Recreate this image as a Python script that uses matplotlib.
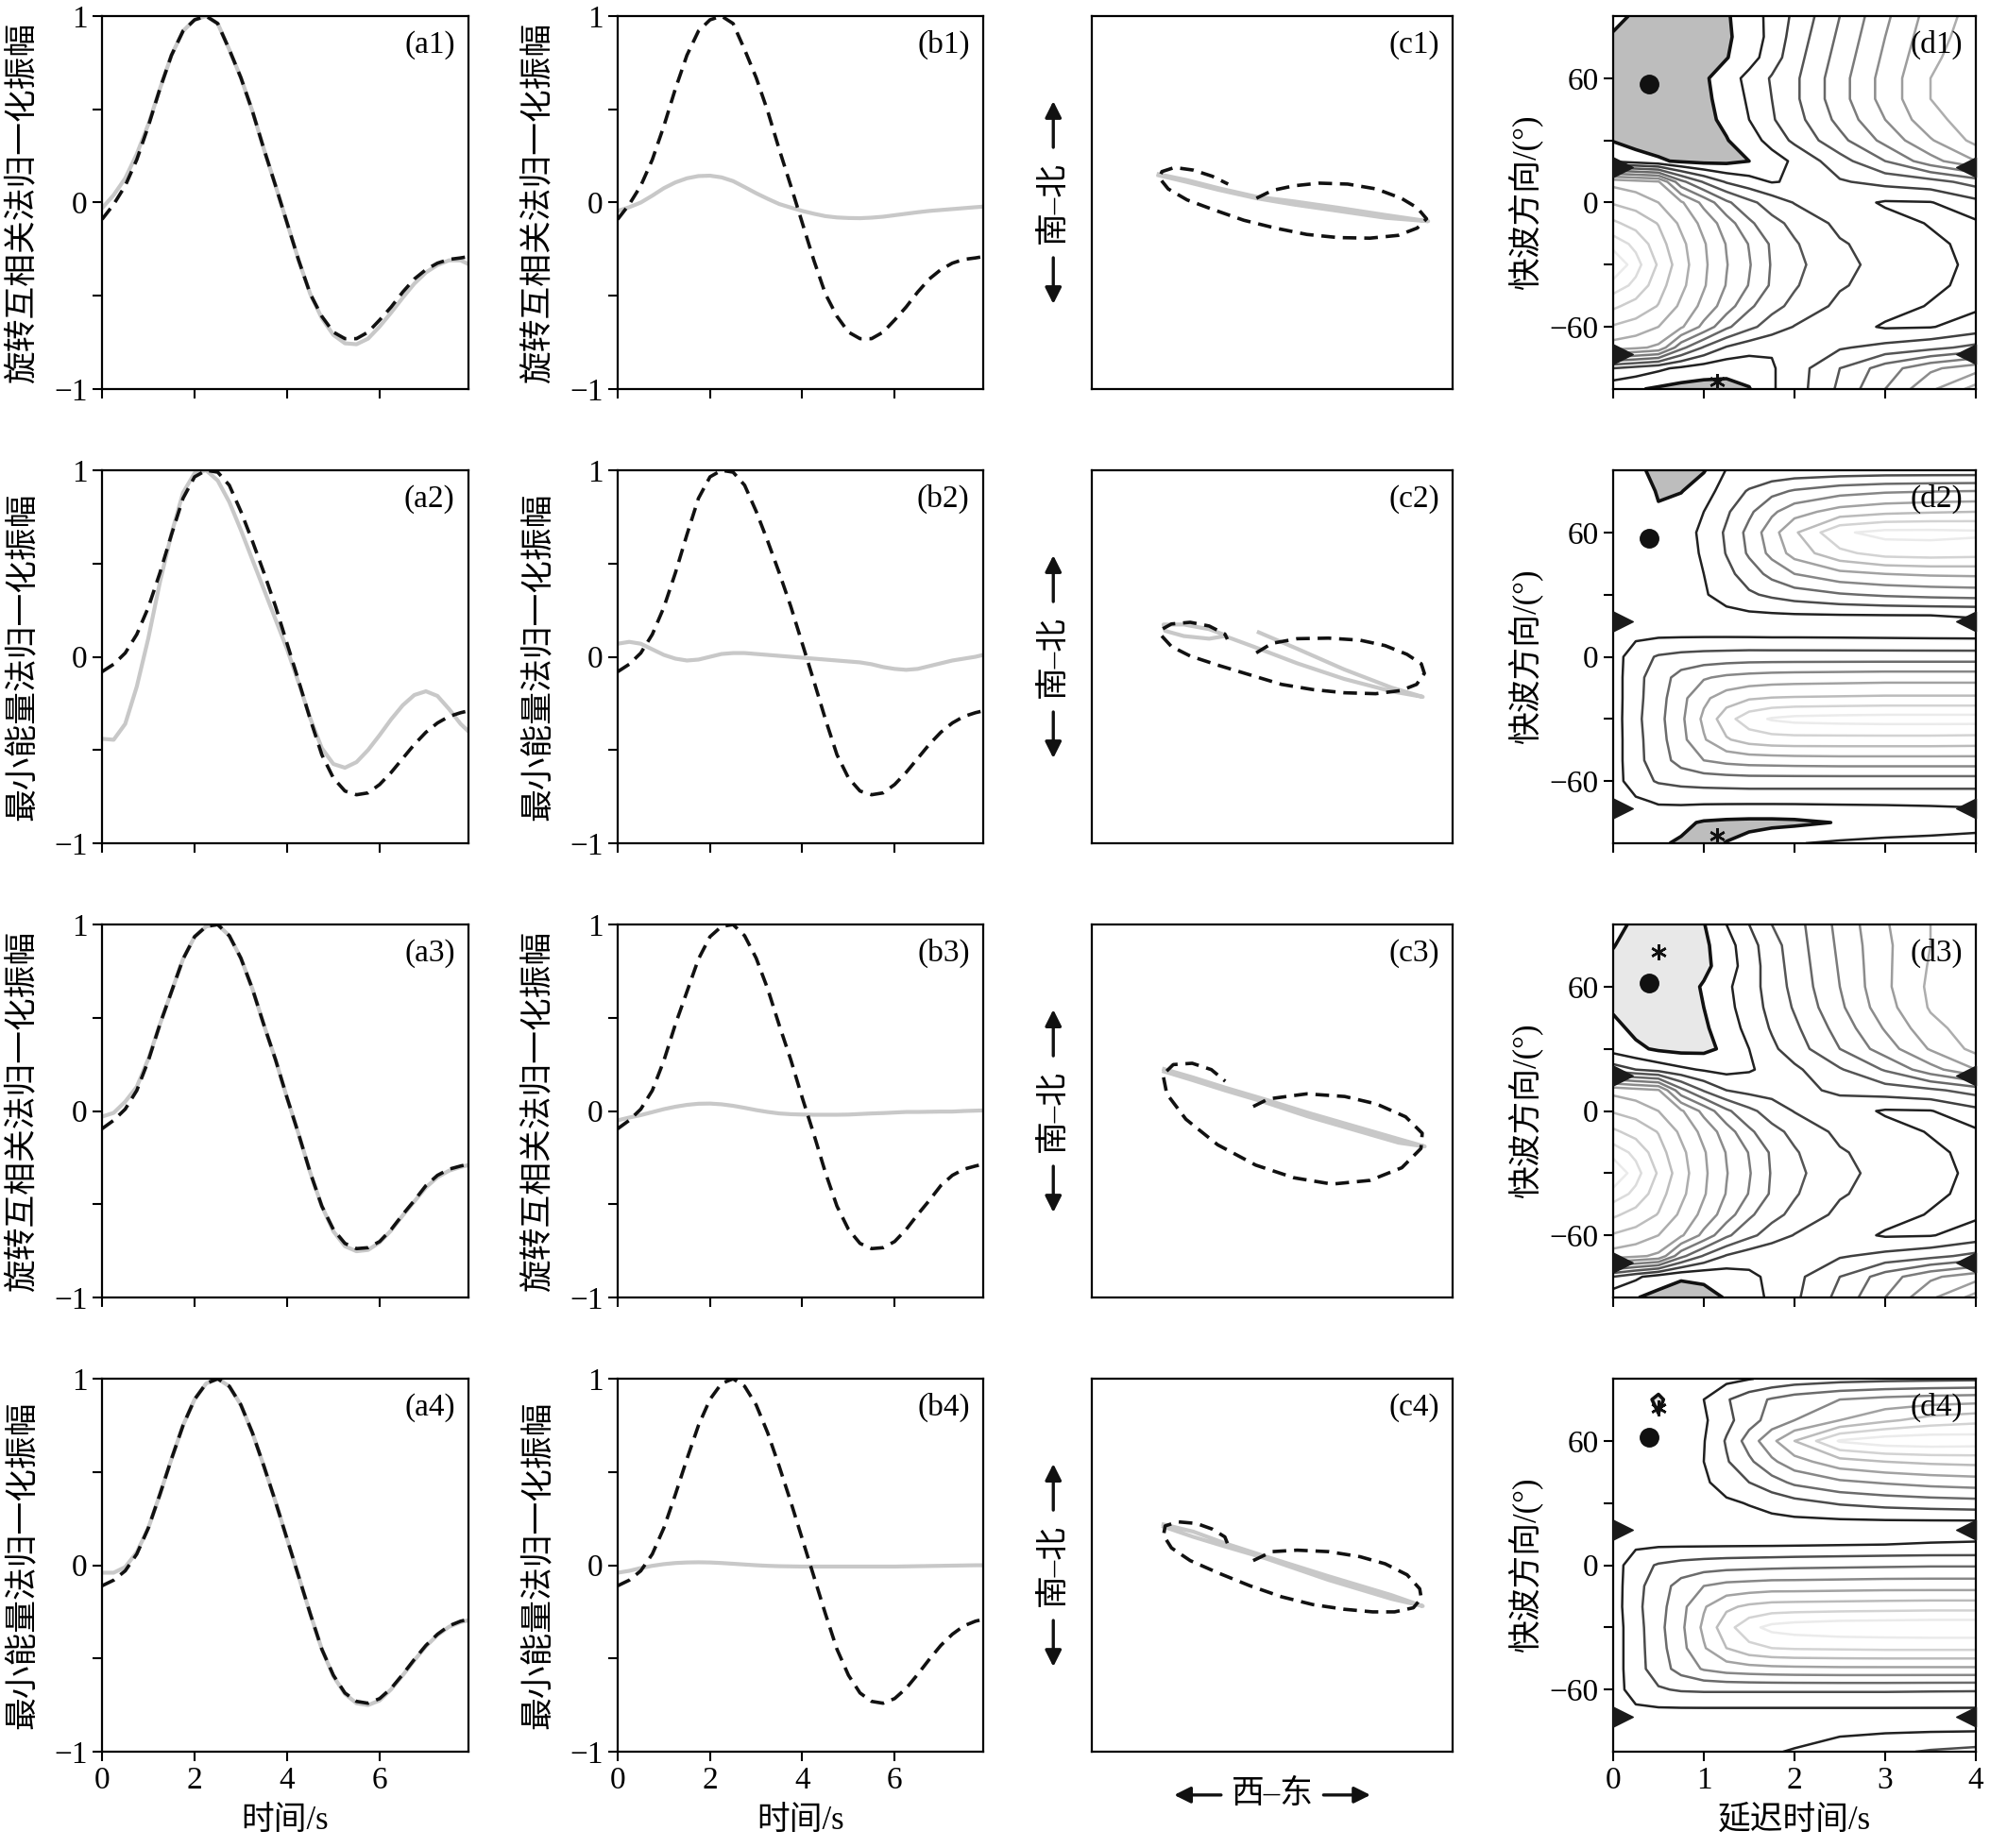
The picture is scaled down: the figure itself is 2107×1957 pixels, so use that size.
import numpy as np
import matplotlib
matplotlib.use('Agg')
from matplotlib import pyplot as plt
from matplotlib.path import Path

plt.rcParams['font.family'] = ['Liberation Serif', 'DejaVu Sans', 'Noto Sans CJK SC']

# ---------------- data ----------------
# sample times of the waveforms (s)
T = np.append(np.arange(0, 7.8, 0.25), 7.92)

# black dashed trace, shared by (a) and (b) of each row
B1 = [-0.09, -0.01, 0.09, 0.23, 0.41, 0.61, 0.79, 0.92, 0.98, 1.0, 0.96, 0.82, 0.67, 0.49, 0.285, 0.09,
      -0.11, -0.31, -0.49, -0.61, -0.695, -0.73, -0.73, -0.695, -0.63, -0.56, -0.48, -0.41, -0.36, -0.325,
      -0.305, -0.297, -0.29]
B2 = [-0.08, -0.04, 0.02, 0.12, 0.265, 0.45, 0.655, 0.85, 0.965, 1.0, 0.99, 0.92, 0.78, 0.62, 0.45, 0.27,
      0.07, -0.13, -0.335, -0.525, -0.65, -0.72, -0.74, -0.73, -0.685, -0.62, -0.545, -0.47, -0.405, -0.355,
      -0.32, -0.3, -0.29]
B3 = [-0.095, -0.05, 0.01, 0.11, 0.27, 0.465, 0.64, 0.815, 0.935, 0.99, 1.0, 0.94, 0.82, 0.655, 0.46, 0.275,
      0.07, -0.125, -0.33, -0.51, -0.635, -0.71, -0.738, -0.733, -0.70, -0.635, -0.555, -0.48, -0.40, -0.345,
      -0.312, -0.295, -0.285]
B4 = [-0.11, -0.08, -0.03, 0.06, 0.2, 0.38, 0.57, 0.75, 0.89, 0.975, 1.0, 0.96, 0.86, 0.71, 0.53, 0.34,
      0.14, -0.06, -0.26, -0.45, -0.59, -0.685, -0.73, -0.74, -0.715, -0.66, -0.585, -0.505, -0.43, -0.37,
      -0.325, -0.3, -0.29]

# grey traces, column (a)
A1G = [-0.03, 0.04, 0.13, 0.26, 0.42, 0.61, 0.79, 0.92, 0.98, 1.0, 0.96, 0.82, 0.67, 0.49, 0.285, 0.09,
       -0.11, -0.31, -0.49, -0.62, -0.71, -0.755, -0.76, -0.73, -0.665, -0.59, -0.51, -0.435, -0.375, -0.335,
       -0.31, -0.31, -0.33]
A2G = [-0.44, -0.445, -0.36, -0.16, 0.1, 0.4, 0.66, 0.88, 0.985, 1.0, 0.945, 0.83, 0.68, 0.52, 0.36, 0.2,
       0.04, -0.14, -0.33, -0.49, -0.575, -0.595, -0.565, -0.5, -0.42, -0.335, -0.26, -0.205, -0.185, -0.21,
       -0.28, -0.36, -0.4]
A3G = [-0.03, -0.01, 0.05, 0.13, 0.28, 0.465, 0.64, 0.815, 0.935, 0.99, 1.0, 0.94, 0.82, 0.655, 0.46, 0.275,
       0.07, -0.125, -0.33, -0.51, -0.645, -0.725, -0.752, -0.745, -0.705, -0.64, -0.56, -0.485, -0.41, -0.355,
       -0.32, -0.3, -0.29]
A4G = [-0.04, -0.04, -0.01, 0.07, 0.2, 0.38, 0.57, 0.75, 0.89, 0.975, 1.0, 0.96, 0.86, 0.71, 0.53, 0.34,
       0.14, -0.06, -0.26, -0.45, -0.595, -0.69, -0.74, -0.75, -0.725, -0.665, -0.59, -0.51, -0.435, -0.375,
       -0.33, -0.305, -0.295]

# grey traces, column (b)
B1G = [-0.045, -0.025, 0.0, 0.037, 0.077, 0.108, 0.13, 0.142, 0.144, 0.135, 0.115, 0.083, 0.05, 0.02, -0.008,
       -0.027, -0.045, -0.06, -0.073, -0.08, -0.083, -0.084, -0.081, -0.076, -0.068, -0.06, -0.052, -0.045,
       -0.04, -0.035, -0.03, -0.025, -0.022]
B2G = [0.07, 0.08, 0.07, 0.04, 0.01, -0.01, -0.02, -0.015, 0.0, 0.015, 0.02, 0.02, 0.015, 0.01, 0.005, 0.0,
       -0.005, -0.01, -0.015, -0.02, -0.025, -0.03, -0.04, -0.055, -0.065, -0.07, -0.065, -0.05, -0.035, -0.02,
       -0.01, 0.0, 0.01]
B3G = [-0.05, -0.035, -0.022, -0.006, 0.01, 0.023, 0.033, 0.039, 0.04, 0.036, 0.028, 0.017, 0.005, -0.005,
       -0.013, -0.017, -0.019, -0.02, -0.02, -0.02, -0.019, -0.016, -0.013, -0.011, -0.008, -0.005, -0.005,
       -0.004, -0.003, -0.003, 0.0, 0.002, 0.003]
B4G = [-0.04, -0.03, -0.015, -0.003, 0.006, 0.012, 0.015, 0.016, 0.015, 0.012, 0.008, 0.004, 0.0, -0.003,
       -0.005, -0.006, -0.007, -0.007, -0.007, -0.007, -0.007, -0.007, -0.007, -0.007, -0.007, -0.006, -0.005,
       -0.004, -0.003, -0.002, -0.001, 0.0, 0.0]

# particle motion (east, north), normalised
C1_DX = [-0.088, 0.0, 0.121, 0.261, 0.418, 0.576, 0.715, 0.803, 0.855, 0.803, 0.698, 0.541, 0.366, 0.191,
         0.017, -0.158, -0.333, -0.472, -0.577, -0.626, -0.612, -0.542, -0.438, -0.333, -0.245]
C1_DY = [0.023, 0.065, 0.09, 0.104, 0.099, 0.073, 0.023, -0.028, -0.087, -0.137, -0.176, -0.191, -0.188,
         -0.171, -0.137, -0.095, -0.036, 0.014, 0.073, 0.132, 0.166, 0.188, 0.174, 0.141, 0.099]
C1_GX = [-0.630, -0.472, -0.298, -0.088, 0.121, 0.366, 0.628, 0.864, 0.628, 0.366, 0.121, -0.088, -0.298,
         -0.472, -0.630]
C1_GY = [0.152, 0.120, 0.077, 0.031, 0.006, -0.028, -0.067, -0.100, -0.082, -0.045, -0.011, 0.023, 0.068,
         0.110, 0.146]

C2_DX = [-0.089, -0.002, 0.138, 0.312, 0.486, 0.625, 0.747, 0.826, 0.843, 0.8, 0.713, 0.573, 0.399, 0.225,
         0.051, -0.124, -0.298, -0.455, -0.559, -0.615, -0.611, -0.559, -0.455, -0.350, -0.263, -0.249]
C2_DY = [0.021, 0.072, 0.097, 0.100, 0.089, 0.060, 0.013, -0.038, -0.089, -0.148, -0.181, -0.198, -0.193,
         -0.176, -0.148, -0.097, -0.046, 0.004, 0.055, 0.114, 0.148, 0.176, 0.185, 0.165, 0.122, 0.094]
C2_GX = [-0.075, 0.138, 0.399, 0.660, 0.834, 0.660, 0.399, 0.138, -0.106, -0.263, -0.350, -0.490, -0.594,
         -0.603, -0.490, -0.350, -0.263]
C2_GY = [0.131, 0.043, -0.068, -0.165, -0.215, -0.185, -0.119, -0.035, 0.055, 0.111, 0.097, 0.111, 0.139,
         0.173, 0.173, 0.148, 0.117]

C3_DX = [-0.106, -0.021, 0.19, 0.401, 0.577, 0.739, 0.831, 0.824, 0.718, 0.542, 0.331, 0.12, -0.092, -0.303,
         -0.479, -0.585, -0.606, -0.549, -0.444, -0.338, -0.261]
C3_DY = [0.024, 0.065, 0.092, 0.078, 0.038, -0.031, -0.119, -0.201, -0.304, -0.372, -0.392, -0.358, -0.29,
         -0.181, -0.044, 0.092, 0.195, 0.249, 0.256, 0.222, 0.16]
C3_GX = [-0.600, -0.440, -0.260, -0.050, 0.200, 0.450, 0.700, 0.845, 0.700, 0.450, 0.200, -0.050, -0.260,
         -0.440, -0.600]
C3_GY = [0.225, 0.180, 0.125, 0.065, -0.010, -0.080, -0.150, -0.190, -0.170, -0.100, -0.030, 0.050, 0.110,
         0.165, 0.212]

C4_DX = [-0.106, -0.002, 0.138, 0.312, 0.486, 0.625, 0.747, 0.817, 0.826, 0.782, 0.678, 0.556, 0.399, 0.225,
         0.051, -0.124, -0.298, -0.455, -0.559, -0.603, -0.594, -0.524, -0.420, -0.333, -0.263, -0.249]
C4_DY = [0.025, 0.073, 0.081, 0.073, 0.046, 0.008, -0.051, -0.126, -0.177, -0.228, -0.250, -0.250, -0.236,
         -0.211, -0.169, -0.110, -0.042, 0.025, 0.093, 0.160, 0.211, 0.233, 0.224, 0.194, 0.152, 0.118]
C4_GX = [-0.603, -0.437, -0.263, -0.037, 0.312, 0.660, 0.834, 0.660, 0.312, -0.037, -0.263, -0.437, -0.603]
C4_GY = [0.219, 0.180, 0.118, 0.047, -0.059, -0.160, -0.219, -0.180, -0.079, 0.037, 0.101, 0.152, 0.207]

# splitting grids: delay time (s) x fast direction (deg), rows typed from +90 down to -90
DT = [0, 0.25, 0.5, 0.75, 1.0, 1.25, 1.5, 1.75, 2.0, 2.5, 3.0, 3.5, 4.0]
PHI_ROWS = list(range(90, -91, -10))

D1 = [[1.3, 0.85, 0.6, 0.6, 0.7, 0.9, 1.5, 2.3, 3.2, 5.0, 6.8, 8.4, 9.4],
      [0.9, 0.55, 0.45, 0.45, 0.55, 0.85, 1.45, 2.3, 3.4, 5.2, 7.0, 8.6, 9.5],
      [0.7, 0.45, 0.4, 0.4, 0.55, 0.95, 1.6, 2.5, 3.6, 5.4, 7.2, 8.8, 9.6],
      [0.6, 0.4, 0.35, 0.45, 0.85, 1.5, 2.3, 3.1, 3.8, 5.6, 7.4, 9.0, 9.7],
      [0.6, 0.4, 0.35, 0.45, 0.8, 1.35, 2.15, 3.0, 3.8, 5.6, 7.4, 9.0, 9.6],
      [0.6, 0.4, 0.4, 0.5, 0.75, 1.2, 2.0, 2.9, 3.6, 5.3, 7.0, 8.7, 9.5],
      [0.95, 0.6, 0.45, 0.5, 0.65, 0.95, 1.5, 2.4, 3.2, 4.7, 6.3, 7.9, 9.3],
      [1.85, 1.5, 1.15, 0.85, 0.7, 0.75, 1.0, 1.5, 2.2, 3.6, 5.0, 6.6, 8.0],
      [8.7, 8.4, 8.1, 5.3, 3.9, 2.9, 2.4, 1.95, 2.1, 2.9, 3.3, 3.6, 4.4],
      [9.9, 9.6, 9.0, 8.15, 6.7, 5.2, 4.25, 3.55, 2.95, 2.4, 1.9, 1.95, 2.7],
      [11.2, 10.6, 9.95, 8.8, 7.7, 6.5, 5.2, 4.3, 3.75, 2.75, 2.3, 1.95, 1.85],
      [12.55, 11.75, 10.4, 9.25, 8.1, 6.95, 5.95, 4.85, 4.1, 3.1, 2.6, 2.15, 1.8],
      [14.1, 12.36, 10.88, 9.44, 8.19, 7.05, 6.08, 4.92, 4.26, 3.26, 2.69, 2.26, 1.83],
      [12.55, 11.75, 10.4, 9.25, 8.1, 6.95, 5.95, 4.85, 4.1, 3.1, 2.6, 2.15, 1.8],
      [11.2, 10.6, 9.95, 8.8, 7.7, 6.5, 5.2, 4.3, 3.75, 2.75, 2.3, 1.95, 1.85],
      [9.9, 9.6, 9.0, 8.15, 6.7, 5.2, 4.25, 3.55, 2.95, 2.4, 1.9, 1.95, 2.4],
      [8.5, 8.2, 7.8, 5.3, 3.9, 2.9, 2.4, 2.1, 2.2, 2.9, 3.3, 3.7, 4.3],
      [3.0, 2.6, 2.2, 1.8, 1.5, 1.3, 1.4, 1.9, 2.5, 4.0, 5.5, 6.8, 7.6],
      [1.3, 1.1, 0.85, 0.65, 0.6, 0.7, 0.95, 1.9, 2.5, 4.2, 6.0, 7.8, 9.4]]

D2 = [[1.5, 1.2, 0.75, 0.7, 0.92, 2.05, 2.15, 2.2, 2.3, 2.35, 2.4, 2.4, 2.4],
      [1.5, 1.3, 0.95, 0.95, 1.6, 2.4, 3.1, 3.7, 4.1, 4.6, 4.85, 4.95, 5.0],
      [1.5, 1.35, 1.05, 1.5, 2.0, 2.85, 3.8, 4.8, 5.6, 6.4, 6.75, 6.9, 7.0],
      [1.5, 1.45, 1.4, 1.6, 2.2, 3.15, 4.3, 5.6, 6.85, 8.85, 9.3, 9.3, 9.2],
      [1.5, 1.5, 1.45, 1.65, 2.1, 3.05, 4.15, 5.3, 6.4, 7.75, 8.4, 8.5, 8.4],
      [1.5, 1.5, 1.5, 1.7, 2.0, 2.7, 3.5, 4.3, 5.0, 5.7, 6.0, 6.15, 6.2],
      [1.5, 1.5, 1.5, 1.6, 1.9, 2.4, 2.85, 3.2, 3.5, 3.9, 4.15, 4.3, 4.4],
      [1.5, 1.5, 1.5, 1.55, 1.6, 1.7, 1.8, 1.85, 1.9, 1.95, 1.98, 2.0, 2.03],
      [1.5, 1.8, 1.9, 1.92, 1.93, 1.93, 1.92, 1.9, 1.9, 1.88, 1.85, 1.82, 1.8],
      [1.5, 2.6, 3.1, 3.3, 3.4, 3.45, 3.5, 3.5, 3.5, 3.5, 3.5, 3.5, 3.5],
      [1.5, 2.7, 3.5, 4.4, 4.9, 5.2, 5.35, 5.45, 5.5, 5.55, 5.6, 5.6, 5.6],
      [1.5, 2.7, 3.6, 4.7, 5.8, 6.5, 6.9, 7.05, 7.1, 7.15, 7.2, 7.2, 7.2],
      [1.5, 2.75, 3.7, 4.8, 6.2, 7.6, 8.6, 9.1, 9.3, 9.4, 9.45, 9.45, 9.45],
      [1.5, 2.7, 3.6, 4.7, 5.9, 6.9, 7.4, 7.6, 7.65, 7.65, 7.65, 7.65, 7.6],
      [1.5, 2.7, 3.5, 4.4, 5.0, 5.3, 5.45, 5.5, 5.55, 5.6, 5.6, 5.6, 5.6],
      [1.5, 2.6, 3.1, 3.3, 3.4, 3.45, 3.5, 3.5, 3.5, 3.5, 3.5, 3.5, 3.5],
      [1.5, 1.8, 2.1, 2.15, 2.15, 2.15, 2.15, 2.15, 2.15, 2.15, 2.15, 2.15, 2.15],
      [1.5, 1.45, 1.35, 1.2, 0.9, 0.8, 0.75, 0.75, 0.8, 1.05, 1.2, 1.4, 1.6],
      [1.5, 1.35, 1.1, 0.9, 0.8, 1.02, 1.3, 1.7, 1.95, 2.15, 2.3, 2.35, 2.4]]

D3 = [[1.5, 0.7, 0.55, 0.65, 0.95, 2.0, 3.0, 4.0, 4.6, 6.3, 7.9, 9.0, 9.5],
      [1.05, 0.55, 0.45, 0.5, 0.8, 1.6, 2.6, 3.6, 4.5, 6.2, 7.8, 9.0, 9.6],
      [0.75, 0.45, 0.4, 0.45, 0.75, 1.5, 2.5, 3.5, 4.4, 6.1, 7.8, 9.1, 9.7],
      [0.6, 0.4, 0.35, 0.55, 1.1, 1.8, 2.6, 3.4, 4.3, 6.0, 7.8, 9.2, 9.7],
      [0.85, 0.45, 0.38, 0.55, 1.0, 1.7, 2.5, 3.3, 4.1, 5.8, 7.6, 9.1, 9.6],
      [1.3, 0.75, 0.5, 0.55, 0.85, 1.5, 2.3, 3.1, 3.8, 5.4, 7.1, 8.7, 9.5],
      [1.6, 1.2, 0.85, 0.7, 0.75, 1.2, 2.0, 2.8, 3.5, 5.0, 6.5, 8.1, 9.3],
      [3.5, 3.0, 2.6, 2.2, 1.9, 1.7, 1.9, 2.3, 2.8, 3.9, 5.1, 6.6, 8.0],
      [8.7, 8.4, 8.1, 5.3, 3.9, 3.0, 2.7, 2.6, 2.7, 3.2, 3.5, 3.8, 4.4],
      [9.9, 9.6, 9.0, 8.15, 6.7, 5.2, 4.25, 3.55, 2.95, 2.4, 1.9, 1.95, 2.7],
      [11.2, 10.6, 9.95, 8.8, 7.7, 6.5, 5.2, 4.3, 3.75, 2.75, 2.3, 1.95, 1.85],
      [12.55, 11.75, 10.4, 9.25, 8.1, 6.95, 5.95, 4.85, 4.1, 3.1, 2.6, 2.15, 1.8],
      [14.1, 12.36, 10.88, 9.44, 8.19, 7.05, 6.08, 4.92, 4.26, 3.26, 2.69, 2.26, 1.83],
      [12.55, 11.75, 10.4, 9.25, 8.1, 6.95, 5.95, 4.85, 4.1, 3.1, 2.6, 2.15, 1.8],
      [11.2, 10.6, 9.95, 8.8, 7.7, 6.5, 5.2, 4.3, 3.75, 2.75, 2.3, 1.95, 1.85],
      [9.9, 9.6, 9.0, 8.15, 6.7, 5.2, 4.25, 3.55, 2.95, 2.4, 1.9, 1.95, 2.4],
      [8.5, 8.2, 7.8, 5.3, 3.9, 2.9, 2.4, 2.1, 2.2, 2.9, 3.3, 3.7, 4.3],
      [3.0, 2.2, 1.5, 1.1, 1.15, 1.4, 1.8, 2.2, 2.7, 4.0, 5.5, 6.8, 7.6],
      [1.3, 1.05, 0.7, 0.6, 0.75, 1.05, 1.6, 2.2, 2.8, 4.3, 6.0, 7.8, 9.4]]

D4 = [[1.5, 1.4, 1.3, 1.4, 1.55, 1.7, 1.95, 2.2, 2.4, 2.6, 2.7, 2.75, 2.8],
      [1.5, 1.25, 0.9, 1.35, 2.0, 2.9, 3.6, 4.1, 4.5, 5.0, 5.3, 5.5, 5.6],
      [1.5, 1.3, 1.05, 1.3, 1.85, 2.7, 3.6, 4.4, 5.0, 6.0, 6.8, 7.4, 7.7],
      [1.5, 1.5, 1.5, 1.6, 1.95, 3.1, 4.45, 5.75, 7.0, 9.1, 9.6, 9.7, 9.6],
      [1.5, 1.5, 1.5, 1.6, 2.0, 2.9, 3.8, 4.8, 5.6, 6.6, 7.0, 7.2, 7.3],
      [1.5, 1.5, 1.5, 1.6, 1.85, 2.4, 3.0, 3.6, 4.2, 4.8, 5.1, 5.35, 5.5],
      [1.5, 1.5, 1.5, 1.55, 1.7, 1.85, 2.05, 2.35, 2.65, 3.1, 3.35, 3.5, 3.6],
      [1.5, 1.5, 1.5, 1.5, 1.55, 1.6, 1.62, 1.65, 1.67, 1.68, 1.7, 1.7, 1.7],
      [1.5, 1.8, 1.85, 1.85, 1.85, 1.86, 1.87, 1.88, 1.9, 1.95, 2.0, 2.03, 2.05],
      [1.5, 2.6, 3.1, 3.35, 3.5, 3.6, 3.65, 3.7, 3.75, 3.8, 3.85, 3.9, 3.9],
      [1.5, 2.7, 3.5, 4.4, 5.0, 5.3, 5.4, 5.5, 5.5, 5.55, 5.6, 5.6, 5.6],
      [1.5, 2.75, 3.6, 4.7, 5.9, 6.8, 7.2, 7.4, 7.45, 7.5, 7.55, 7.6, 7.6],
      [1.5, 2.6, 3.7, 4.8, 6.2, 7.6, 8.7, 9.3, 9.5, 9.7, 9.75, 9.8, 9.8],
      [1.5, 2.6, 3.6, 4.7, 5.9, 7.0, 7.7, 8.0, 8.1, 8.15, 8.2, 8.2, 8.2],
      [1.5, 2.6, 3.5, 4.4, 5.1, 5.45, 5.6, 5.7, 5.75, 5.8, 5.8, 5.8, 5.8],
      [1.5, 2.5, 2.9, 3.1, 3.15, 3.15, 3.15, 3.15, 3.15, 3.15, 3.15, 3.12, 3.1],
      [1.5, 1.8, 1.85, 1.85, 1.85, 1.85, 1.85, 1.85, 1.85, 1.85, 1.85, 1.85, 1.85],
      [1.5, 1.45, 1.4, 1.4, 1.45, 1.5, 1.6, 1.7, 1.75, 1.85, 1.9, 1.95, 1.98],
      [1.5, 1.45, 1.4, 1.45, 1.55, 1.7, 1.85, 1.95, 2.05, 2.4, 2.8, 3.1, 3.3]]

D_MAXLEVEL = [13, 9, 13, 9]
D_FILL = [('#bdbdbd', '#bdbdbd'), ('#bdbdbd', '#bdbdbd'), ('#e8e8e8', '#c0c0c0'), ('#dedede', '#c0c0c0')]
D_DOT = [(0.4, 57), (0.4, 57), (0.4, 62), (0.4, 62)]
D_STAR = [(1.15, -86.5), (1.15, -86.5), (0.5, 77), (0.5, 76)]
TRI_PHI = [17, -73]

ROW_BLACK = [B1, B2, B3, B4]
A_GRAY = [A1G, A2G, A3G, A4G]
B_GRAY = [B1G, B2G, B3G, B4G]
C_DASH = [(C1_DX, C1_DY), (C2_DX, C2_DY), (C3_DX, C3_DY), (C4_DX, C4_DY)]
C_GRAY = [(C1_GX, C1_GY), (C2_GX, C2_GY), (C3_GX, C3_GY), (C4_GX, C4_GY)]
D_GRID = [D1, D2, D3, D4]
YLAB = ['旋转互相关法归一化振幅', '最小能量法归一化振幅', '旋转互相关法归一化振幅', '最小能量法归一化振幅']

# ---------------- style ----------------
CJK = ['Liberation Serif', 'Noto Sans CJK SC']
GREY = '#c8c8c8'
BLACK = '#111111'
DASH = (4.0, 2.3)
FS = 24
LFS = 25

COL_L = [0.0513, 0.3104, 0.5487, 0.8106]
COL_W = [0.1841, 0.1837, 0.1813, 0.1823]
ROW_B = [0.7895, 0.5437, 0.2979, 0.0521]
ROW_H = 0.2018

tri_r = Path([(0, -1), (2, 0), (0, 1), (0, -1)], [Path.MOVETO, Path.LINETO, Path.LINETO, Path.CLOSEPOLY])
tri_l = Path([(0, -1), (-2, 0), (0, 1), (0, -1)], [Path.MOVETO, Path.LINETO, Path.LINETO, Path.CLOSEPOLY])
ARROW = dict(arrowstyle='-|>', lw=2.4, color=BLACK, mutation_scale=26, shrinkA=0, shrinkB=0)


def style(ax):
    for s in ax.spines.values():
        s.set_linewidth(1.6)
    ax.tick_params(direction='out', length=7, width=1.5, labelsize=FS, pad=4)


def panel_label(ax, txt):
    ax.text(0.963, 0.962, txt, transform=ax.transAxes, ha='right', va='top', fontsize=FS)


def wave_panel(ax, black, grey, txt, ylab, bottom):
    ax.plot(T, grey, color=GREY, lw=3.0, solid_capstyle='round')
    ax.plot(T, black, color=BLACK, lw=2.6, dashes=DASH)
    ax.set_xlim(0, 7.92)
    ax.set_ylim(-1, 1)
    ax.set_yticks([-1, -0.5, 0, 0.5, 1])
    ax.set_yticklabels(['\u22121', '', '0', '', '1'])
    ax.set_xticks([0, 2, 4, 6])
    if bottom:
        ax.set_xticklabels(['0', '2', '4', '6'])
        ax.set_xlabel('时间/s', fontsize=LFS, family=CJK)
        ax.xaxis.set_label_coords(0.5, -0.145)
    else:
        ax.set_xticklabels([])
    ax.set_ylabel(ylab, fontsize=LFS, family=CJK)
    ax.yaxis.set_label_coords(-0.175, 0.5)
    style(ax)
    panel_label(ax, txt)


def pm_panel(ax, dash, grey, txt, bottom):
    ax.plot(grey[0], grey[1], color=GREY, lw=3.0, solid_joinstyle='round')
    ax.plot(dash[0], dash[1], color=BLACK, lw=2.6, dashes=DASH)
    ax.set_xlim(-1, 1)
    ax.set_ylim(-1, 1)
    ax.set_xticks([])
    ax.set_yticks([])
    # south-north label with arrows
    ax.text(-0.107, 0.5, '南\u2013北', transform=ax.transAxes, rotation=90, ha='center', va='center',
            fontsize=LFS, family=CJK)
    ax.annotate('', xy=(-0.107, 0.772), xytext=(-0.107, 0.648), xycoords='axes fraction', arrowprops=ARROW)
    ax.annotate('', xy=(-0.107, 0.228), xytext=(-0.107, 0.352), xycoords='axes fraction', arrowprops=ARROW)
    if bottom:
        ax.text(0.5, -0.116, '西\u2013东', transform=ax.transAxes, ha='center', va='center',
                fontsize=LFS, family=CJK)
        ax.annotate('', xy=(0.228, -0.116), xytext=(0.358, -0.116), xycoords='axes fraction',
                    arrowprops=ARROW, annotation_clip=False)
        ax.annotate('', xy=(0.772, -0.116), xytext=(0.642, -0.116), xycoords='axes fraction',
                    arrowprops=ARROW, annotation_clip=False)
    style(ax)
    panel_label(ax, txt)


def sw_panel(ax, grid, nmax, fills, dot, star, txt, bottom):
    z = np.array(grid, dtype=float)[::-1]
    phi = np.array(PHI_ROWS[::-1], dtype=float)
    dt = np.array(DT)
    pg = np.repeat(phi[:, None], len(dt), axis=1)
    lo = z.min() - 1
    ax.contourf(dt, phi, np.ma.masked_where(pg < 0, z), levels=[lo, 1], colors=[fills[0]])
    ax.contourf(dt, phi, np.ma.masked_where(pg >= 0, z), levels=[lo, 1], colors=[fills[1]])
    lev = list(range(2, nmax + 1))
    frac = np.linspace(0, 1, len(lev)) ** 0.8
    greys = [str(round(0.13 + 0.79 * f, 3)) for f in frac]
    ax.contour(dt, phi, z, levels=lev, colors=greys, linewidths=1.8)
    ax.contour(dt, phi, z, levels=[1], colors=BLACK, linewidths=2.6)
    ax.plot(*dot, 'o', color=BLACK, ms=14, clip_on=False, zorder=5)
    ax.plot(*star, marker=(6, 2, 0), color=BLACK, ms=12, mew=1.8, ls='none', clip_on=False, zorder=5)
    for p in TRI_PHI:
        ax.plot(0, p, marker=tri_r, color='#1a1a1a', ms=30, ls='none', clip_on=False, zorder=6)
        ax.plot(4, p, marker=tri_l, color='#1a1a1a', ms=30, ls='none', clip_on=False, zorder=6)
    ax.set_xlim(0, 4)
    ax.set_ylim(-90, 90)
    ax.set_yticks([-60, -30, 0, 30, 60])
    ax.set_yticklabels(['\u221260', '', '0', '', '60'])
    ax.set_xticks([0, 1, 2, 3, 4])
    if bottom:
        ax.set_xticklabels(['0', '1', '2', '3', '4'])
        ax.set_xlabel('延迟时间/s', fontsize=LFS, family=CJK)
        ax.xaxis.set_label_coords(0.5, -0.145)
    else:
        ax.set_xticklabels([])
    ax.set_ylabel('快波方向/(°)', fontsize=LFS, family=CJK)
    ax.yaxis.set_label_coords(-0.193, 0.5)
    style(ax)
    panel_label(ax, txt)


fig = plt.figure(figsize=(21.07, 19.57), dpi=100)

for r in range(4):
    n = str(r + 1)
    bottom = (r == 3)
    ax = fig.add_axes([COL_L[0], ROW_B[r], COL_W[0], ROW_H])
    wave_panel(ax, ROW_BLACK[r], A_GRAY[r], '(a' + n + ')', YLAB[r], bottom)
    ax = fig.add_axes([COL_L[1], ROW_B[r], COL_W[1], ROW_H])
    wave_panel(ax, ROW_BLACK[r], B_GRAY[r], '(b' + n + ')', YLAB[r], bottom)
    ax = fig.add_axes([COL_L[2], ROW_B[r], COL_W[2], ROW_H])
    pm_panel(ax, C_DASH[r], C_GRAY[r], '(c' + n + ')', bottom)
    ax = fig.add_axes([COL_L[3], ROW_B[r], COL_W[3], ROW_H])
    sw_panel(ax, D_GRID[r], D_MAXLEVEL[r], D_FILL[r], D_DOT[r], D_STAR[r], '(d' + n + ')', bottom)

fig.savefig('out.png', dpi=100)
